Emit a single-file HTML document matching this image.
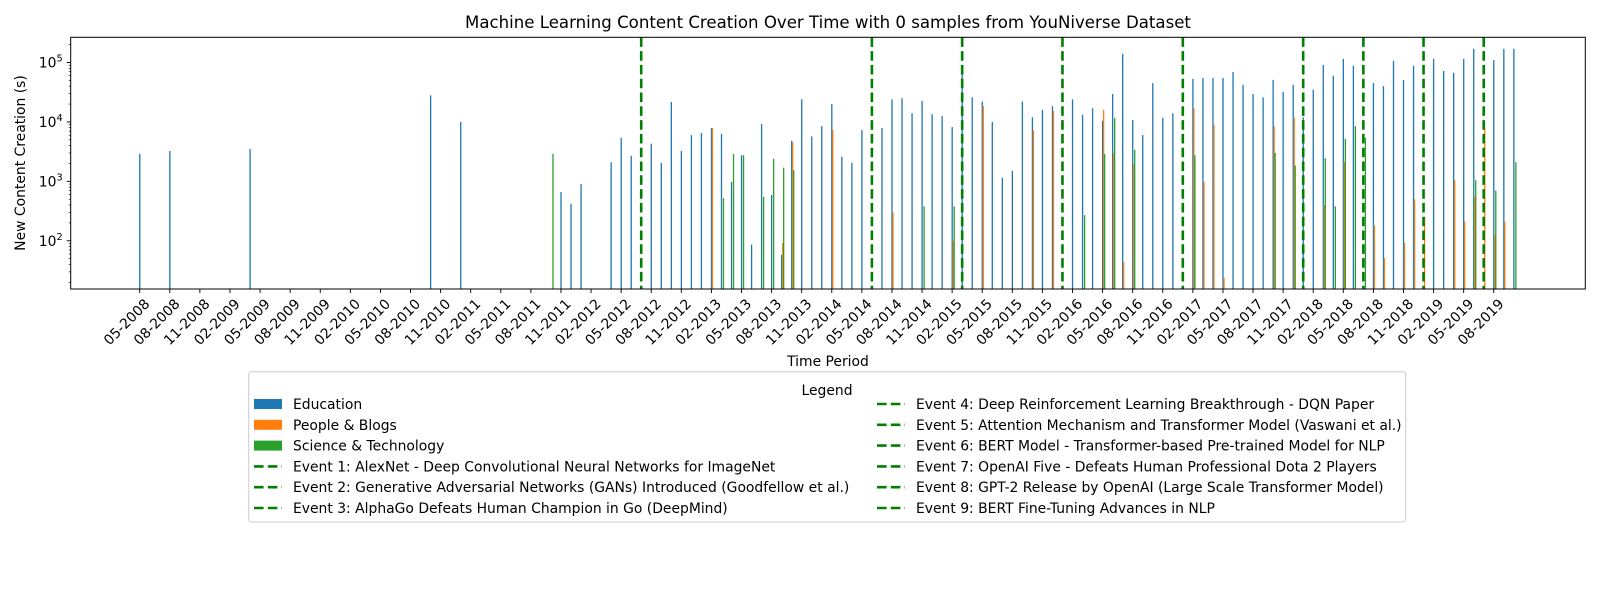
<!DOCTYPE html>
<html><head><meta charset="utf-8">
<style>
body{margin:0;background:#fff;}
svg{display:block;font-family:"DejaVu Sans","Liberation Sans",sans-serif;}
</style></head>
<body>
<svg id="chart" width="1600" height="600" viewBox="0 0 1600 600" xmlns="http://www.w3.org/2000/svg">
<rect width="1600" height="600" fill="#fff"/>
<text x="828" y="28" font-size="16.6" text-anchor="middle" fill="#000">Machine Learning Content Creation Over Time with 0 samples from YouNiverse Dataset</text>
<g id="bars"></g>
<g id="events"></g>
<g id="axes"></g>
<text x="828" y="366" font-size="13.9" text-anchor="middle">Time Period</text>
<text transform="translate(25,163) rotate(-90)" font-size="13.9" text-anchor="middle">New Content Creation (s)</text>
<g id="legend"></g>
</svg>
<script>
// ---- data (months as "YYYY-MM", values in seconds) ----
const eduMonths = ["2008-05","2008-08","2009-04","2010-10","2011-01","2011-11","2011-12","2012-01","2012-04","2012-05","2012-06","2012-08","2012-09","2012-10","2012-11","2012-12","2013-01","2013-02","2013-03","2013-04","2013-05","2013-06","2013-07","2013-08","2013-09","2013-10","2013-11","2013-12","2014-01","2014-02","2014-03","2014-04","2014-05","2014-07","2014-08","2014-09","2014-10","2014-11","2014-12","2015-01","2015-02","2015-03","2015-04","2015-05","2015-06","2015-07","2015-08","2015-09","2015-10","2015-11","2015-12","2016-02","2016-03","2016-04","2016-05","2016-06","2016-07","2016-08","2016-09","2016-10","2016-11","2016-12","2017-02","2017-03","2017-04","2017-05","2017-06","2017-07","2017-08","2017-09","2017-10","2017-11","2017-12","2018-01","2018-02","2018-03","2018-04","2018-05","2018-06","2018-08","2018-09","2018-10","2018-11","2018-12","2019-02","2019-03","2019-04","2019-05","2019-06","2019-08","2019-09","2019-10"];
const eduValues = [2900,3250,3500,28000,10000,660,420,900,2100,5400,2700,4300,2050,21700,3250,6000,6500,7900,6300,980,2750,86,9200,590,58,4800,24000,5700,8500,20000,2600,2050,7300,7900,24000,25000,14000,22500,13500,12500,8200,70000,26000,22000,10000,1150,1500,22000,12000,16000,18500,24000,13200,17000,10500,29500,140000,10800,6000,45000,11700,14000,53000,55000,55000,55000,69000,42000,29500,26000,51000,32000,42000,12000,35000,91000,60000,115000,88000,45000,40000,107000,51000,88000,115000,72000,67000,115000,170000,110000,170000,170000];
const pbMonths = ["2013-02","2013-09","2013-10","2014-02","2014-08","2015-02","2015-05","2015-10","2015-12","2016-05","2016-06","2016-07","2016-08","2017-02","2017-03","2017-04","2017-05","2017-10","2017-12","2018-03","2018-05","2018-08","2018-09","2018-11","2018-12","2019-01","2019-04","2019-05","2019-06","2019-07","2019-08","2019-09"];
const pbValues = [7900,92,4600,7300,300,100,18500,7300,15300,16000,3000,44,1950,17000,980,9000,24,8500,11700,400,2100,180,51,92,500,250,1050,210,550,8200,125,210];
const stMonths = ["2011-10","2013-03","2013-04","2013-05","2013-07","2013-08","2013-09","2013-10","2014-11","2015-02","2016-03","2016-05","2016-06","2016-08","2017-02","2017-10","2017-12","2018-03","2018-04","2018-05","2018-06","2018-07","2019-06","2019-08","2019-10"];
const stValues = [2900,520,2900,2750,550,2400,1700,1550,380,380,270,2900,11700,3400,2750,3000,1850,2450,380,5200,8500,5400,1050,700,2100];
const eventMonths = ["2012-07","2014-06","2015-03","2016-01","2017-01","2018-01","2018-07","2019-01","2019-07"];
const eventLabels = ["Event 1: AlexNet - Deep Convolutional Neural Networks for ImageNet","Event 2: Generative Adversarial Networks (GANs) Introduced (Goodfellow et al.)","Event 3: AlphaGo Defeats Human Champion in Go (DeepMind)","Event 4: Deep Reinforcement Learning Breakthrough - DQN Paper","Event 5: Attention Mechanism and Transformer Model (Vaswani et al.)","Event 6: BERT Model - Transformer-based Pre-trained Model for NLP","Event 7: OpenAI Five - Defeats Human Professional Dota 2 Players","Event 8: GPT-2 Release by OpenAI (Large Scale Transformer Model)","Event 9: BERT Fine-Tuning Advances in NLP"];
const seriesNames = ["Education","People & Blogs","Science & Technology"];
const yTickExps = [2,3,4,5];

// ---- geometry ----
const NS="http://www.w3.org/2000/svg";
const L=70.7,R=1585.3,T=37.3,B=289;
const COLORS=["#1f77b4","#ff7f0e","#2ca02c"];
function mIdx(s){const p=s.split("-");return (+p[0]-2008)*12+(+p[1]-5);}
function xS(i){return 139.7+10.03*i;}
const LMIN=1.189,LMAX=5.424;
function yS(v){return B-(Math.log10(v)-LMIN)/(LMAX-LMIN)*(B-T);}
function mk(tag,attrs,parent){const e=document.createElementNS(NS,tag);for(const k in attrs)e.setAttribute(k,attrs[k]);parent.appendChild(e);return e;}

// ---- bars ----
const barsG=document.getElementById("bars");
const allM=[eduMonths,pbMonths,stMonths],allV=[eduValues,pbValues,stValues];
for(let s=0;s<3;s++){
  for(let k=0;k<allM[s].length;k++){
    const x=xS(mIdx(allM[s][k]))+s*1.0-0.6;
    const y=yS(allV[s][k]);
    const r=mk("rect",{x:x.toFixed(2),y:y.toFixed(2),width:1.3,height:(B-y).toFixed(2),fill:COLORS[s]},barsG);
    
    
  }
}
// ---- event lines ----
const evG=document.getElementById("events");
for(let k=0;k<eventMonths.length;k++){
  const x=xS(mIdx(eventMonths[k]));
  const ln=mk("line",{x1:x,x2:x,y1:T,y2:B,stroke:"#008000","stroke-width":2.6,"stroke-dasharray":"9.6,4.2"},evG);
  
  
}
// ---- axes ----
const ax=document.getElementById("axes");
const frame=mk("rect",{x:L,y:T,width:R-L,height:B-T,fill:"none",stroke:"#000","stroke-width":1},ax);


for(let i=0;i<=135;i+=3){
  const x=xS(i);
  mk("line",{x1:x,x2:x,y1:B,y2:B+4,stroke:"#000","stroke-width":0.9},ax);
  const yr=2008+Math.floor((4+i)/12),mo=(4+i)%12+1;
  const lab=(mo<10?"0":"")+mo+"-"+yr;
  const t=mk("text",{transform:`translate(${(x+4).toFixed(1)},${B+9}) rotate(-45)`,"font-size":"13.9","text-anchor":"end","dominant-baseline":"hanging"},ax);
  t.textContent=lab;
  
  
}
for(const e of yTickExps){
  const y=yS(Math.pow(10,e));
  mk("line",{x1:L-4,x2:L,y1:y,y2:y,stroke:"#000","stroke-width":0.9},ax);
  const t=mk("text",{x:L-8,y:y+5,"font-size":"13.9","text-anchor":"end"},ax);
  
  
  const a=mk("tspan",{},t);a.textContent="10";
  const b=mk("tspan",{"font-size":"9.8",dy:"-6"},t);b.textContent=String(e);
}
for(let e=1;e<=5;e++){for(let m=2;m<=9;m++){const v=m*Math.pow(10,e);const lv=Math.log10(v);if(lv<LMIN||lv>LMAX)continue;const y=yS(v);mk("line",{x1:L-2,x2:L,y1:y,y2:y,stroke:"#000","stroke-width":0.6},ax);}}
// ---- legend ----
const lg=document.getElementById("legend");
const box=mk("rect",{x:248.7,y:371.7,width:1157,height:150.3,rx:3,fill:"#fff",stroke:"#ccc","stroke-width":1},lg);


const lt=mk("text",{x:827,y:395,"font-size":"13.9","text-anchor":"middle"},lg);lt.textContent="Legend";


const entries=[];
for(let s=0;s<3;s++)entries.push({t:"patch",c:COLORS[s],l:seriesNames[s]});
for(let k=0;k<eventLabels.length;k++)entries.push({t:"line",l:eventLabels[k]});
for(let k=0;k<entries.length;k++){
  const col=k<6?0:1,row=k<6?k:k-6;
  const px=col?877:254,cy=404+row*20.8;
  const g=mk("g",{},lg);
  
  
  if(entries[k].t==="patch")mk("rect",{x:px,y:cy-5,width:28,height:10,fill:entries[k].c},g);
  else mk("line",{x1:px,x2:px+28,y1:cy,y2:cy,stroke:"#008000","stroke-width":2.6,"stroke-dasharray":"9.6,4.2"},g);
  const tx=mk("text",{x:px+39,y:cy+5,"font-size":"13.9"},g);tx.textContent=entries[k].l;
}
</script>
</body></html>
